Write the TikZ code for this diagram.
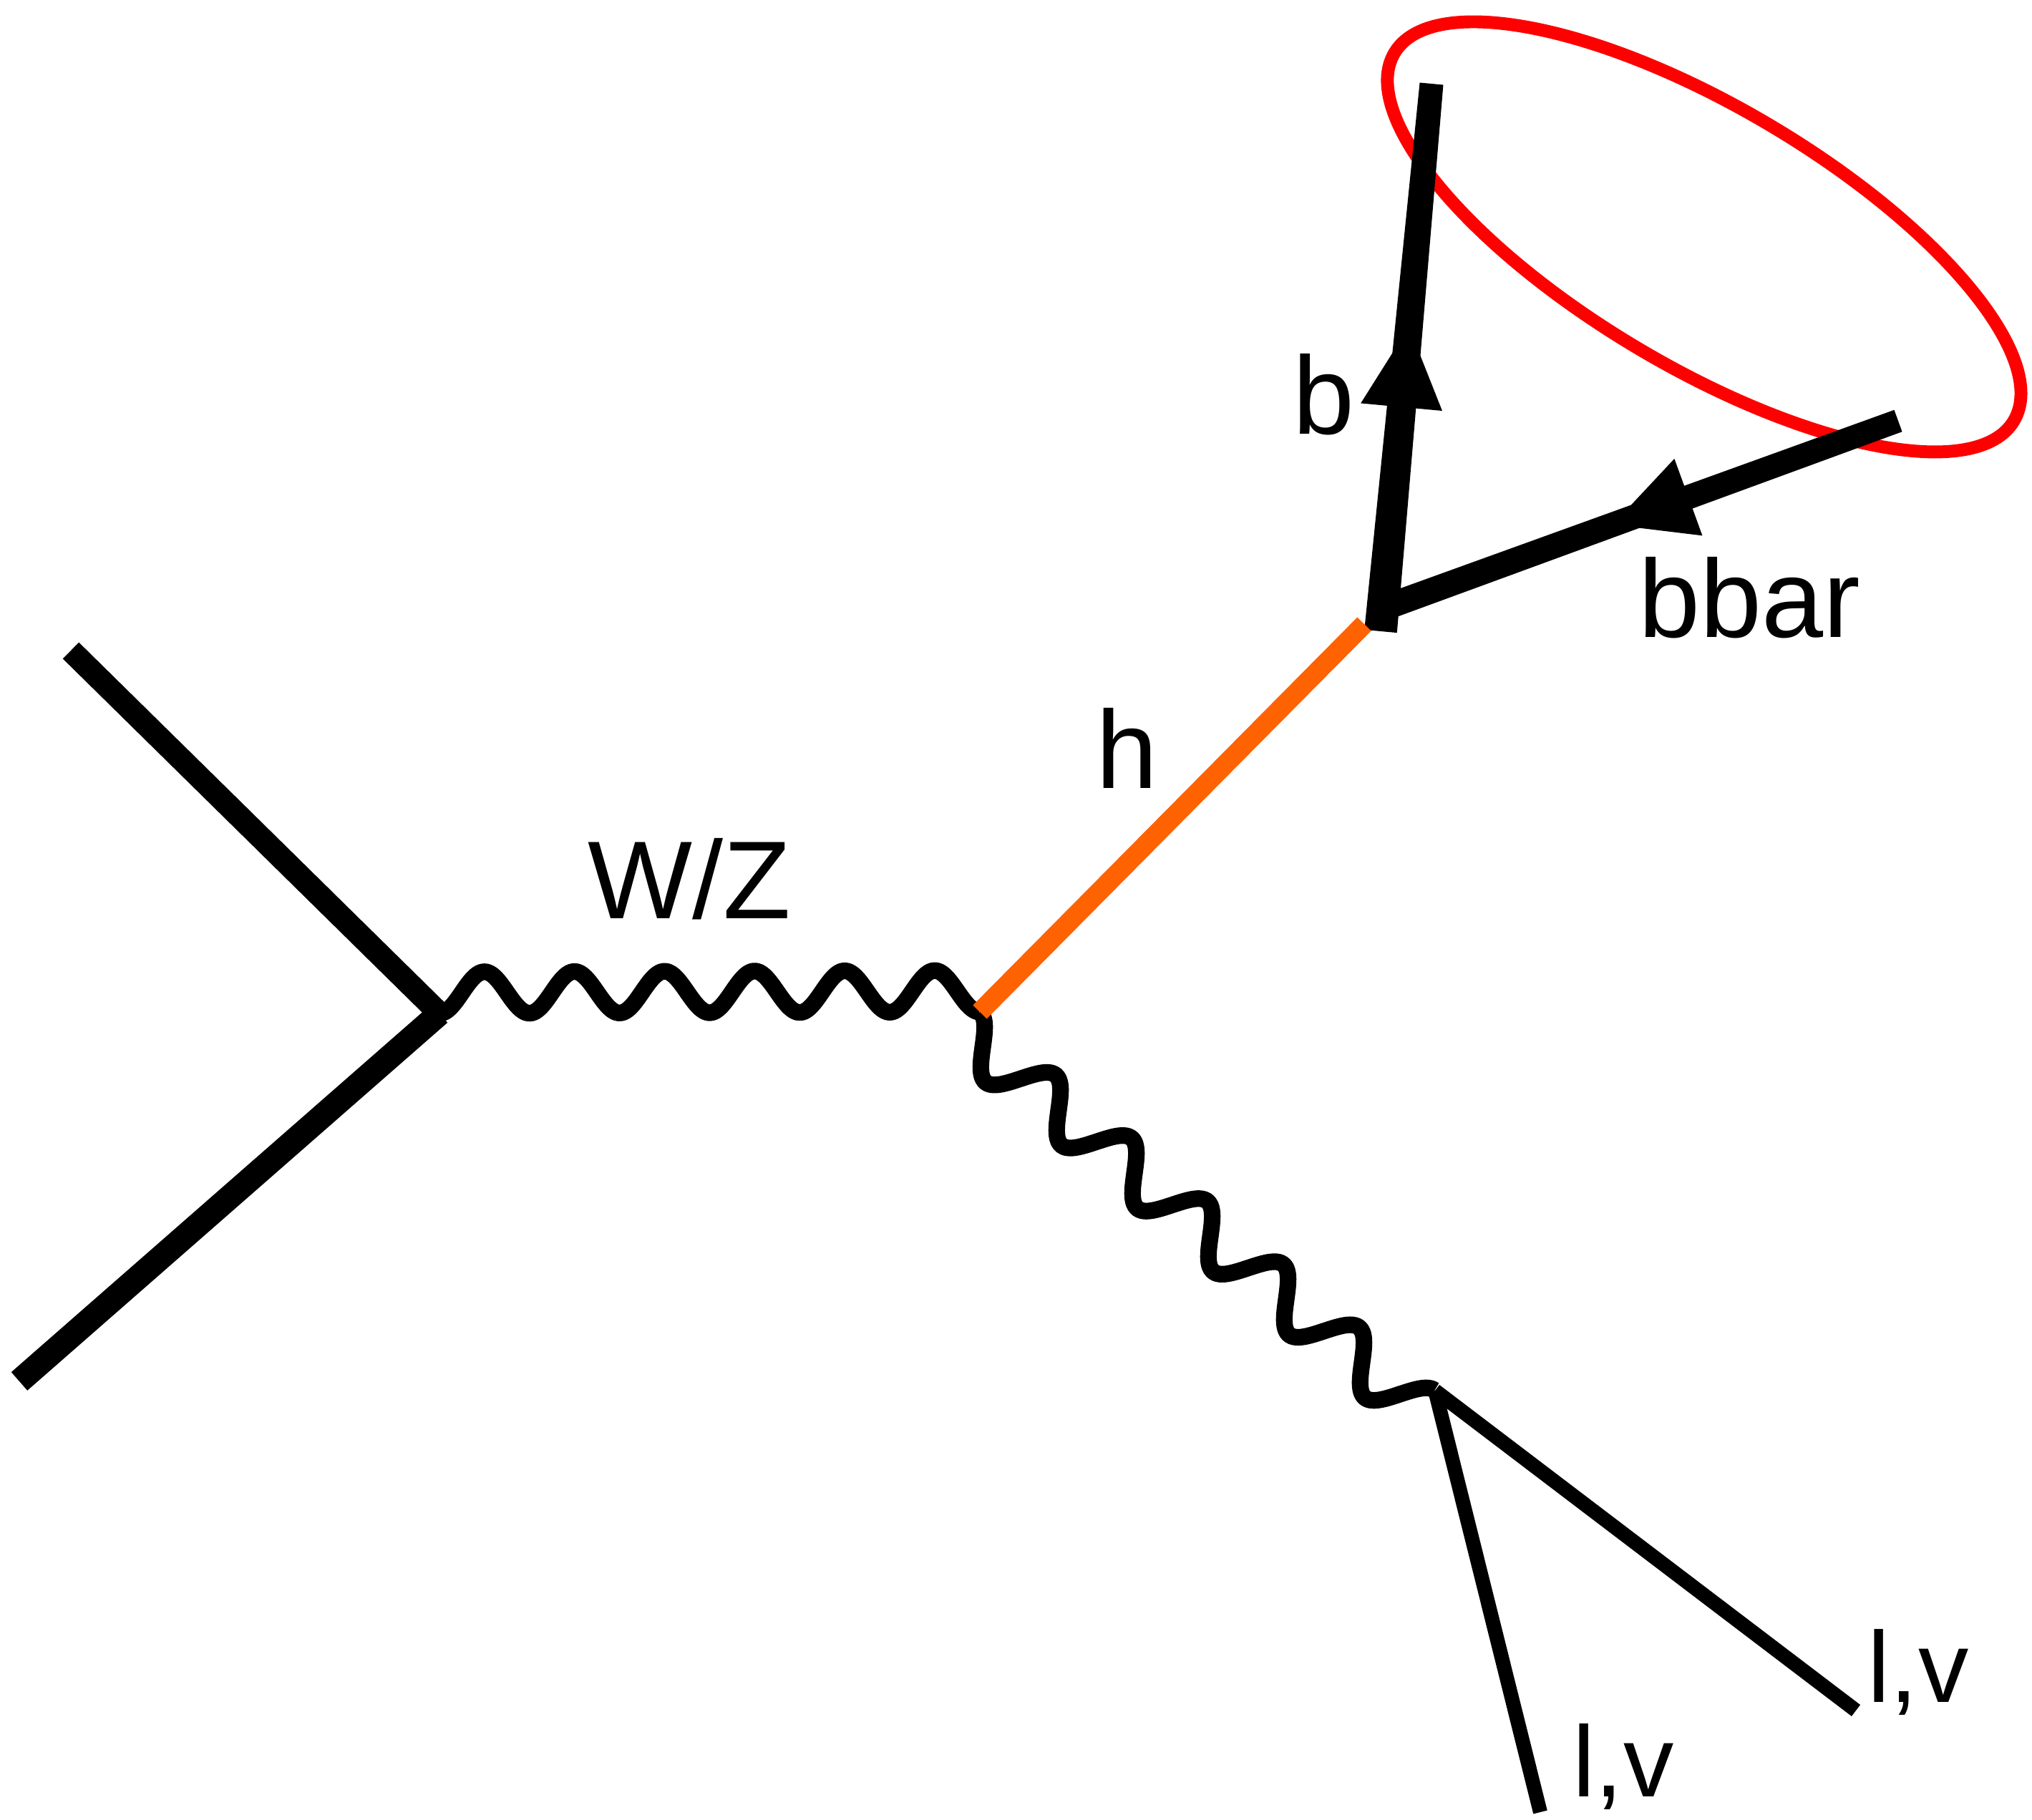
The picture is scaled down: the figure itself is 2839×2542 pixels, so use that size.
\documentclass[tikz,border=0pt]{standalone}
\usepackage{fontspec}
\setmainfont{Liberation Sans}
\usetikzlibrary{calc, arrows.meta, decorations.markings}
\definecolor{higgscolor}{HTML}{FF6200}
\definecolor{jetcolor}{HTML}{FF0000}

% tapered fermion line: from, to, half width at from, half width at to
\newcommand{\fermionline}[4]{%
  \fill ($(#1)!#3!90:(#2)$) -- ($(#1)!#3!-90:(#2)$) -- ($(#2)!#4!90:(#1)$) -- ($(#2)!#4!-90:(#1)$) -- cycle;}

\begin{document}
\begin{tikzpicture}[
    x=0.01cm, y=-0.01cm,
    lbl/.style={anchor=base west, inner sep=0pt, font=\fontsize{44}{53}\selectfont},
    smalllbl/.style={lbl, font=\fontsize{40}{48}\selectfont},
    quark/.style={draw, line width=9.1pt},
    lepton/.style={draw, line width=5.7pt},
    higgs/.style={draw=higgscolor, line width=7.7pt},
    jet/.style={draw=jetcolor, line width=5.1pt},
    wzline/.style 2 args={draw, line width=6.6pt, to path={
        let \p1=(\tikztostart), \p2=(\tikztotarget),
            \n1={veclen(\x2-\x1,\y2-\y1)}, \n2={atan2(\y2-\y1,\x2-\x1)} in
        plot[domain=0:1, samples=300, variable=\t]
            ([shift={(\p1)}, rotate=\n2] {\t*\n1*1pt}, {#1*(1-cos(360*#2*\t))})}},
    midarrow/.style={decorate, decoration={markings,
        mark=at position #1 with {\arrow{Triangle[length=32pt, width=32.4pt]}}}}
]
    \useasboundingbox (0,0) rectangle (2839,2542);

    % =========================================================================
    % VERTICES AND END POINTS
    % =========================================================================
    \coordinate (q1) at (99,909);
    \coordinate (q2) at (27,1930);
    \coordinate (v1) at (614,1416);
    \coordinate (v2) at (1369,1414);
    \coordinate (v3) at (2005,1943);
    \coordinate (l1) at (2152,2532);
    \coordinate (l2) at (2593,2390);
    \coordinate (hend) at (1906,872);
    \coordinate (bs) at (1929,882);
    \coordinate (bt) at (2000,117);
    \coordinate (bbs) at (2652,588);
    \coordinate (bbe) at (1932,850);
    \coordinate (jet_ctr) at (2381,331);

    % Jet cone
    \draw [jet, rotate around={-30.7:(jet_ctr)}] (jet_ctr) ellipse [x radius=5.03cm, y radius=1.81cm];

    % =========================================================================
    % LINES
    % =========================================================================

    % b quarks
    \fermionline{bs}{bt}{6.5pt}{4.7pt}
    \path [midarrow=0.556] (bs) -- (bt);
    \fermionline{bbs}{bbe}{4.6pt}{5.1pt}
    \path [midarrow=0.554] (bbs) -- (bbe);

    % Incoming quarks
    \draw [quark] (q1) -- (v1);
    \draw [quark, line width=9.7pt] (q2) -- (v1);

    % W/Z bosons
    \draw [wzline={8.25pt}{6}] (v1) to (v2);
    \draw [wzline={-10pt}{6}] (v2) to (v3);

    % Leptons
    \draw [lepton] (v3) -- (l1);
    \draw [lepton] (v3) -- (l2);

    % Higgs
    \draw [higgs] (v2) -- (hend);

    % =========================================================================
    % LABELS
    % =========================================================================
    \node (lbl_b) [lbl] at (1806,606) {b};
    \node (lbl_bbar) [lbl] at (2289,890) {bbar};
    \node (lbl_h) [lbl] at (1531,1101) {h};
    \node (lbl_wz) [lbl] at (821,1283) {W/Z};
    \node (lbl_lv1) [smalllbl] at (2197,2510) {l,v};
    \node (lbl_lv2) [smalllbl] at (2609,2378) {l,v};

\end{tikzpicture}
\end{document}
